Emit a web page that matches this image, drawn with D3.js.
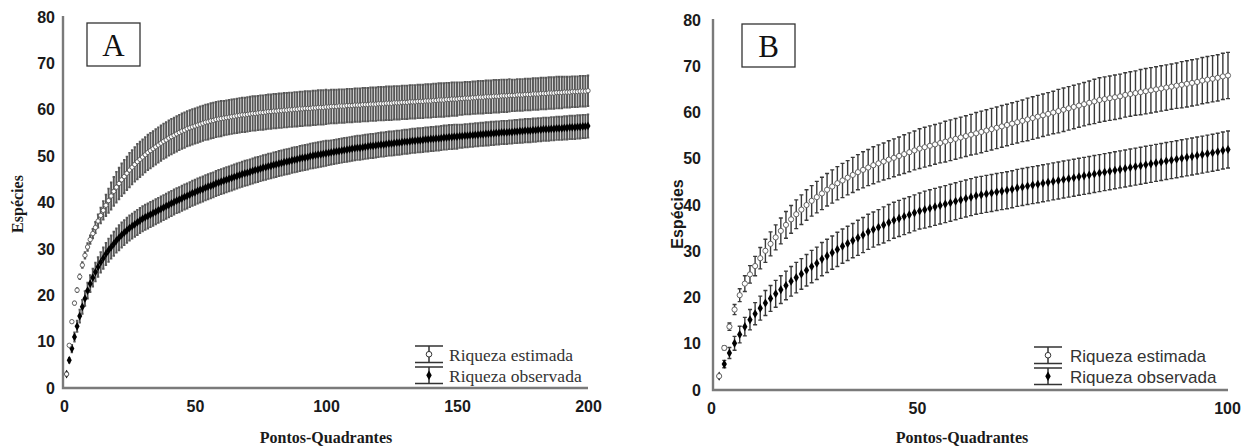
<!DOCTYPE html>
<html>
<head>
<meta charset="utf-8">
<script src="https://cdn.jsdelivr.net/npm/d3@7"></script>
<style>
  body { margin: 0; background: #fff; }
</style>
</head>
<body>
<svg id="chart" width="1248" height="447"></svg>
<script>
const yTicks = [0, 10, 20, 30, 40, 50, 60, 70, 80];
const xTicksA = [0, 50, 100, 150, 200];
const xTicksB = [0, 50, 100];
const legendLabels = ["Riqueza estimada", "Riqueza observada"];
const yTitle = "Espécies";
const xTitle = "Pontos-Quadrantes";

// panel A: 200 sample points
const estA = [3.0,9.2,14.3,18.3,21.1,24.0,26.5,28.6,30.4,32.0,
  33.3,34.6,36.0,37.2,38.3,39.4,40.4,41.4,42.4,43.3,
  44.1,44.9,45.6,46.3,47.0,47.6,48.2,48.8,49.3,49.8,
  50.3,50.8,51.2,51.6,52.0,52.4,52.8,53.2,53.5,53.9,
  54.2,54.5,54.8,55.1,55.4,55.6,55.9,56.1,56.3,56.5,
  56.7,56.9,57.1,57.3,57.4,57.6,57.7,57.9,58.0,58.1,
  58.2,58.3,58.4,58.5,58.6,58.7,58.8,58.9,58.9,59.0,
  59.1,59.2,59.2,59.3,59.4,59.4,59.5,59.6,59.6,59.7,
  59.7,59.8,59.8,59.9,59.9,60.0,60.0,60.1,60.1,60.2,
  60.2,60.3,60.3,60.3,60.4,60.4,60.5,60.5,60.5,60.6,
  60.6,60.7,60.7,60.7,60.8,60.8,60.8,60.9,60.9,60.9,
  61.0,61.0,61.0,61.1,61.1,61.1,61.2,61.2,61.2,61.3,
  61.3,61.3,61.4,61.4,61.4,61.5,61.5,61.5,61.6,61.6,
  61.6,61.7,61.7,61.7,61.8,61.8,61.8,61.9,61.9,61.9,
  62.0,62.0,62.1,62.1,62.1,62.2,62.2,62.3,62.3,62.3,
  62.4,62.4,62.5,62.5,62.5,62.6,62.6,62.7,62.7,62.7,
  62.8,62.8,62.8,62.9,62.9,62.9,63.0,63.0,63.0,63.1,
  63.1,63.1,63.2,63.2,63.2,63.3,63.3,63.3,63.4,63.4,
  63.4,63.5,63.5,63.5,63.6,63.6,63.6,63.7,63.7,63.7,
  63.8,63.8,63.8,63.9,63.9,63.9,64.0,64.0,64.0,64.1];
const estSdA = [0,0.1,0.2,0.3,0.4,0.5,0.6,0.7,0.8,0.9,
  1.0,1.2,1.4,1.7,2.0,2.3,2.6,2.9,3.1,3.3,
  3.4,3.5,3.6,3.6,3.7,3.7,3.7,3.8,3.8,3.8,
  3.8,3.8,3.8,3.8,3.8,3.8,3.8,3.8,3.8,3.8,
  3.8,3.8,3.8,3.8,3.8,3.8,3.8,3.8,3.8,3.8,
  3.8,3.8,3.8,3.8,3.8,3.8,3.8,3.8,3.8,3.8,
  3.7,3.7,3.7,3.7,3.7,3.7,3.7,3.7,3.7,3.7,
  3.7,3.7,3.7,3.7,3.7,3.7,3.7,3.7,3.7,3.7,
  3.7,3.7,3.7,3.7,3.7,3.7,3.7,3.7,3.7,3.7,
  3.7,3.7,3.7,3.7,3.7,3.7,3.7,3.7,3.7,3.7,
  3.6,3.6,3.6,3.6,3.6,3.6,3.6,3.6,3.6,3.6,
  3.6,3.6,3.6,3.6,3.6,3.6,3.6,3.6,3.6,3.6,
  3.6,3.6,3.6,3.6,3.6,3.6,3.6,3.6,3.6,3.6,
  3.6,3.6,3.6,3.6,3.6,3.6,3.6,3.6,3.6,3.6,
  3.6,3.6,3.6,3.6,3.6,3.6,3.6,3.6,3.6,3.6,
  3.5,3.5,3.5,3.5,3.5,3.5,3.5,3.5,3.5,3.5,
  3.5,3.5,3.5,3.5,3.5,3.5,3.5,3.5,3.5,3.5,
  3.4,3.4,3.4,3.4,3.4,3.4,3.4,3.4,3.4,3.4,
  3.4,3.4,3.4,3.4,3.4,3.4,3.4,3.4,3.4,3.4,
  3.3,3.3,3.3,3.3,3.3,3.3,3.3,3.3,3.3,3.3];
const obsA = [3.0,6.0,8.5,11.0,13.3,15.5,17.5,19.3,21.0,22.5,
  23.8,25.0,26.1,27.1,28.0,28.9,29.7,30.4,31.1,31.8,
  32.4,33.0,33.5,34.0,34.5,34.9,35.3,35.7,36.1,36.5,
  36.8,37.1,37.4,37.7,38.0,38.3,38.6,38.9,39.2,39.5,
  39.8,40.1,40.4,40.6,40.9,41.2,41.4,41.7,42.0,42.2,
  42.5,42.7,42.9,43.2,43.4,43.6,43.8,44.1,44.3,44.5,
  44.7,44.9,45.1,45.3,45.5,45.7,45.9,46.1,46.3,46.4,
  46.6,46.8,47.0,47.1,47.3,47.5,47.6,47.8,47.9,48.1,
  48.2,48.4,48.5,48.7,48.8,48.9,49.1,49.2,49.3,49.5,
  49.6,49.7,49.8,50.0,50.1,50.2,50.3,50.4,50.5,50.6,
  50.7,50.8,50.9,51.0,51.1,51.2,51.3,51.4,51.5,51.6,
  51.7,51.8,51.8,51.9,52.0,52.1,52.2,52.2,52.3,52.4,
  52.5,52.5,52.6,52.7,52.7,52.8,52.9,52.9,53.0,53.1,
  53.1,53.2,53.3,53.3,53.4,53.4,53.5,53.6,53.6,53.7,
  53.7,53.8,53.8,53.9,54.0,54.0,54.1,54.1,54.2,54.2,
  54.3,54.3,54.4,54.4,54.5,54.5,54.6,54.6,54.7,54.7,
  54.8,54.8,54.9,54.9,55.0,55.0,55.1,55.1,55.1,55.2,
  55.2,55.3,55.3,55.4,55.4,55.5,55.5,55.5,55.6,55.6,
  55.7,55.7,55.8,55.8,55.8,55.9,55.9,56.0,56.0,56.0,
  56.1,56.1,56.2,56.2,56.2,56.3,56.3,56.4,56.4,56.5];
const obsSdA = [0,0.5,0.8,1.0,1.2,1.4,1.5,1.6,1.7,1.8,
  1.9,2.0,2.1,2.2,2.3,2.4,2.5,2.5,2.6,2.6,
  2.7,2.7,2.7,2.7,2.7,2.7,2.7,2.7,2.7,2.7,
  2.7,2.7,2.7,2.7,2.7,2.7,2.7,2.7,2.7,2.7,
  2.7,2.7,2.7,2.7,2.7,2.7,2.7,2.7,2.7,2.7,
  2.7,2.7,2.7,2.7,2.7,2.7,2.7,2.7,2.7,2.7,
  2.7,2.7,2.7,2.7,2.7,2.7,2.7,2.7,2.7,2.7,
  2.7,2.7,2.7,2.7,2.7,2.7,2.7,2.7,2.7,2.7,
  2.7,2.7,2.7,2.7,2.7,2.7,2.7,2.7,2.7,2.7,
  2.7,2.7,2.7,2.7,2.7,2.7,2.7,2.7,2.7,2.7,
  2.6,2.6,2.6,2.6,2.6,2.6,2.6,2.6,2.6,2.6,
  2.6,2.6,2.6,2.6,2.6,2.6,2.6,2.6,2.6,2.6,
  2.6,2.6,2.6,2.6,2.6,2.6,2.6,2.6,2.6,2.6,
  2.6,2.6,2.6,2.6,2.6,2.6,2.6,2.6,2.6,2.6,
  2.6,2.6,2.6,2.6,2.6,2.6,2.6,2.6,2.6,2.6,
  2.5,2.5,2.5,2.5,2.5,2.5,2.5,2.5,2.5,2.5,
  2.5,2.5,2.5,2.5,2.5,2.5,2.5,2.5,2.5,2.5,
  2.5,2.5,2.5,2.5,2.5,2.5,2.5,2.5,2.5,2.5,
  2.5,2.5,2.5,2.5,2.5,2.5,2.5,2.5,2.5,2.5,
  2.5,2.5,2.5,2.5,2.5,2.5,2.5,2.5,2.5,2.5];

// panel B: 100 sample points
const estB = [3.0,9.1,13.7,17.4,20.5,23.0,25.0,26.8,28.5,30.1,
  31.6,33.0,34.4,35.7,36.9,38.0,39.0,40.0,40.9,41.7,
  42.5,43.3,44.0,44.7,45.3,45.9,46.5,47.1,47.6,48.1,
  48.6,49.0,49.4,49.8,50.2,50.6,51.0,51.4,51.8,52.2,
  52.5,52.8,53.1,53.4,53.7,54.0,54.3,54.6,54.9,55.2,
  55.5,55.8,56.1,56.4,56.7,57.0,57.3,57.6,57.9,58.2,
  58.5,58.8,59.1,59.4,59.7,60.0,60.3,60.6,60.9,61.2,
  61.5,61.8,62.1,62.4,62.7,62.9,63.1,63.3,63.5,63.8,
  64.0,64.2,64.4,64.6,64.8,65.0,65.2,65.4,65.6,65.8,
  66.0,66.2,66.4,66.6,66.9,67.1,67.3,67.5,67.8,68.0];
const estSdB = [0,0.4,0.8,1.1,1.4,1.7,1.9,2.1,2.3,2.5,
  2.6,2.7,2.8,2.9,3.0,3.1,3.2,3.3,3.3,3.4,
  3.5,3.5,3.6,3.6,3.7,3.7,3.8,3.8,3.9,3.9,
  4.0,4.0,4.0,4.1,4.1,4.1,4.2,4.2,4.2,4.3,
  4.3,4.3,4.3,4.3,4.4,4.4,4.4,4.4,4.4,4.4,
  4.5,4.5,4.5,4.5,4.5,4.5,4.5,4.5,4.5,4.5,
  4.6,4.6,4.6,4.6,4.6,4.6,4.7,4.7,4.7,4.7,
  4.7,4.7,4.7,4.8,4.8,4.8,4.8,4.8,4.8,4.8,
  4.8,4.8,4.9,4.9,4.9,4.9,4.9,4.9,4.9,4.9,
  5.0,5.0,5.0,5.0,5.0,5.0,5.0,5.0,5.0,5.0];
const obsB = [3.0,5.6,8.0,10.1,12.0,13.7,15.2,16.5,17.7,18.8,
  19.8,20.8,21.7,22.6,23.5,24.3,25.1,25.9,26.7,27.4,
  28.3,29.0,29.7,30.4,31.1,31.7,32.3,32.9,33.5,34.2,
  34.7,35.2,35.7,36.2,36.7,37.1,37.5,37.9,38.3,38.7,
  39.0,39.3,39.6,39.9,40.2,40.5,40.8,41.1,41.4,41.7,
  42.0,42.2,42.4,42.6,42.8,43.0,43.2,43.4,43.7,43.9,
  44.1,44.3,44.5,44.7,44.9,45.1,45.3,45.5,45.7,45.9,
  46.1,46.3,46.5,46.7,46.9,47.1,47.3,47.5,47.7,47.9,
  48.1,48.3,48.5,48.7,48.9,49.1,49.3,49.5,49.7,49.9,
  50.1,50.3,50.5,50.7,50.9,51.1,51.3,51.5,51.8,52.0];
const obsSdB = [0,0.8,1.2,1.5,1.8,2.0,2.2,2.4,2.6,2.7,
  2.8,2.9,3.0,3.1,3.2,3.3,3.3,3.4,3.5,3.5,
  3.6,3.6,3.6,3.7,3.7,3.7,3.7,3.8,3.8,3.8,
  3.8,3.8,3.9,3.9,3.9,3.9,3.9,3.9,3.9,3.9,
  4.0,4.0,4.0,4.0,4.0,4.0,4.0,4.0,4.0,4.0,
  4.0,4.0,4.0,4.0,4.0,4.0,4.0,4.0,4.0,4.0,
  4.0,4.0,4.0,4.0,4.0,4.0,4.0,4.0,4.0,4.0,
  4.0,4.0,4.0,4.0,4.0,4.0,4.0,4.0,4.0,4.0,
  4.0,4.0,4.0,4.0,4.0,4.0,4.0,4.0,4.0,4.0,
  4.0,4.0,4.0,4.0,4.0,4.0,4.0,4.0,4.0,4.0];

const svg = d3.select("#chart");

function drawPanel(p) {
    const x = d3.scaleLinear().domain([0, p.xMax]).range(p.xRange);
    const y = d3.scaleLinear().domain([0, 80]).range(p.yRange);
    const xLab = p.xLabelScale || x; // where the tick labels sit

    const g = svg.append("g");
    const est = p.est.map((v, i) => ({ s: i + 1, v: v, sd: p.estSd[i] }));
    const obs = p.obs.map((v, i) => ({ s: i + 1, v: v, sd: p.obsSd[i] }));

    // error bars first, markers on top
    const barPath = d => {
        const cx = x(d.s), y1 = y(d.v - d.sd), y2 = y(d.v + d.sd), w = p.capW;
        return `M${cx},${y1}V${y2}M${cx - w},${y1}H${cx + w}M${cx - w},${y2}H${cx + w}`;
    };
    [est, obs].forEach(series => {
        g.append("g").selectAll("path")
            .data(series.filter(d => d.sd > 0))
            .join("path")
            .attr("d", barPath)
            .attr("fill", "none")
            .attr("stroke", p.barColor)
            .attr("stroke-width", p.barWidth);
    });

    g.append("g").selectAll("path")
        .data(obs)
        .join("path")
        .attr("transform", d => `translate(${x(d.s)},${y(d.v)})`)
        .attr("d", d3.symbol(d3.symbolDiamond, p.diamondSize))
        .attr("fill", "#000");

    g.append("g").selectAll("circle")
        .data(est)
        .join("circle")
        .attr("cx", d => x(d.s))
        .attr("cy", d => y(d.v))
        .attr("r", p.circleR)
        .attr("fill", "#fff")
        .attr("stroke", "#555")
        .attr("stroke-width", 0.9);

    // axis lines
    g.append("path")
        .attr("d", `M${p.xRange[0] - 1},${p.yRange[1] - 1}V${p.yRange[0]}H${p.xRange[1]}`)
        .attr("fill", "none")
        .attr("stroke", "#7a7a7a")
        .attr("stroke-width", 2.4);

    const yAxis = g.append("g")
        .attr("transform", `translate(${p.xRange[0] - 1},0)`)
        .call(d3.axisLeft(y).tickValues(yTicks).tickSize(0).tickPadding(p.yPad));
    const xAxis = g.append("g")
        .attr("transform", `translate(0,${p.yRange[0]})`)
        .call(d3.axisBottom(xLab).tickValues(p.xTicks).tickSize(0).tickPadding(13));
    [yAxis, xAxis].forEach(a => {
        a.select(".domain").remove();
        a.selectAll("text")
            .attr("font-family", "'Liberation Sans', Arial, sans-serif")
            .attr("font-weight", "bold")
            .attr("font-size", 16)
            .attr("fill", "#1a1a1a");
    });

    // axis titles
    g.append("text")
        .attr("transform", `translate(${p.yTitleX},${p.yTitleY}) rotate(-90)`)
        .attr("text-anchor", "middle")
        .attr("font-family", p.yTitleFont)
        .attr("font-weight", "bold")
        .attr("font-size", 16)
        .attr("fill", "#1a1a1a")
        .text(yTitle);
    g.append("text")
        .attr("x", p.xTitleX)
        .attr("y", 443)
        .attr("text-anchor", "middle")
        .attr("font-family", "'Liberation Serif', 'Times New Roman', serif")
        .attr("font-weight", "bold")
        .attr("font-size", 16)
        .attr("fill", "#1a1a1a")
        .text(xTitle);

    // panel letter box
    g.append("rect")
        .attr("x", p.box[0]).attr("y", p.box[1])
        .attr("width", 53).attr("height", 43)
        .attr("fill", "#fff")
        .attr("stroke", "#333")
        .attr("stroke-width", 1.3);
    g.append("text")
        .attr("x", p.box[0] + 26.5)
        .attr("y", p.box[1] + 33)
        .attr("text-anchor", "middle")
        .attr("font-family", "'Liberation Serif', 'Times New Roman', serif")
        .attr("font-size", 31)
        .attr("fill", "#111")
        .text(p.letter);

    // legend
    const lg = g.append("g").attr("transform", `translate(${p.legend[0]},${p.legend[1]})`);
    legendLabels.forEach((lab, i) => {
        const top = i * 21, bot = top + 16.5, mid = (top + bot) / 2;
        lg.append("path")
            .attr("d", `M0,${top}V${bot}M-14,${top}H14M-14,${bot}H14`)
            .attr("fill", "none")
            .attr("stroke", "#333")
            .attr("stroke-width", 1.5);
        if (i === 0) {
            lg.append("circle").attr("cx", 0).attr("cy", mid).attr("r", 2.8)
                .attr("fill", "#fff").attr("stroke", "#333").attr("stroke-width", 1);
        } else {
            lg.append("path").attr("transform", `translate(0,${mid})`)
                .attr("d", d3.symbol(d3.symbolDiamond, 26)).attr("fill", "#000");
        }
        lg.append("text")
            .attr("x", p.legendTextDx)
            .attr("y", top + 15)
            .attr("font-family", p.legendFont)
            .attr("font-size", p.legendSize)
            .attr("fill", "#333")
            .text(lab);
    });
}

drawPanel({
    letter: "A", xMax: 200, xTicks: xTicksA,
    xRange: [64, 588], yRange: [388, 17],
    est: estA, estSd: estSdA, obs: obsA, obsSd: obsSdA,
    barColor: "#575757", barWidth: 1.9, capW: 1.2,
    diamondSize: 22, circleR: 2.2,
    yPad: 8, yTitleX: 23, yTitleY: 204, yTitleFont: "'Liberation Serif', 'Times New Roman', serif",
    xTitleX: 326, box: [87, 23],
    legend: [429, 346], legendTextDx: 20, legendFont: "'Liberation Serif', 'Times New Roman', serif", legendSize: 17.5
});

drawPanel({
    letter: "B", xMax: 100, xTicks: xTicksB,
    xRange: [714, 1228], yRange: [390, 20],
    // tick labels in the original are not evenly spaced along the axis
    xLabelScale: d3.scaleLinear().domain([0, 50, 100]).range([711, 917, 1227]),
    est: estB, estSd: estSdB, obs: obsB, obsSd: obsSdB,
    barColor: "#3a3a3a", barWidth: 1.4, capW: 2,
    diamondSize: 24, circleR: 2.6,
    yPad: 12, yTitleX: 683, yTitleY: 214, yTitleFont: "'Liberation Sans', Arial, sans-serif",
    xTitleX: 962, box: [742, 24],
    legend: [1048, 347], legendTextDx: 22, legendFont: "'Liberation Sans', Arial, sans-serif", legendSize: 17
});
</script>
</body>
</html>
